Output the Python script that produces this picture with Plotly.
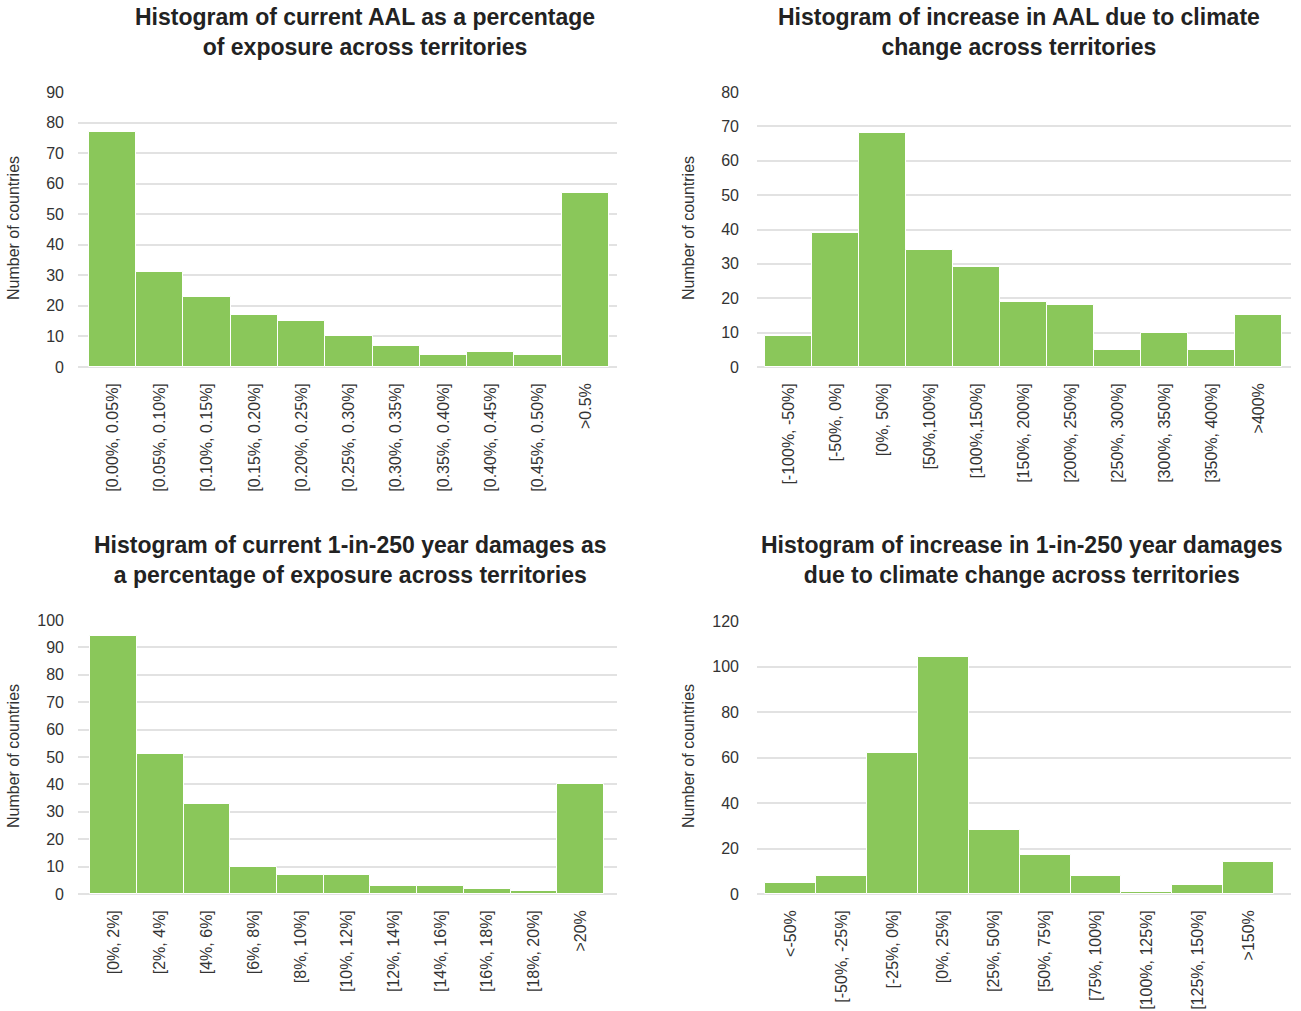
import plotly.graph_objects as go

W, H = 1301, 1011

# ---- data ----
cats_aal = ["[0.00%, 0.05%]", "[0.05%, 0.10%]", "[0.10%, 0.15%]", "[0.15%, 0.20%]",
            "[0.20%, 0.25%]", "[0.25%, 0.30%]", "[0.30%, 0.35%]", "[0.35%, 0.40%]",
            "[0.40%, 0.45%]", "[0.45%, 0.50%]", ">0.5%"]
vals_aal = [77, 31, 23, 17, 15, 10, 7, 4, 5, 4, 57]

cats_aal_inc = ["[-100%, -50%]", "[-50%, 0%]", "[0%, 50%]", "[50%,100%]", "[100%,150%]",
                "[150%, 200%]", "[200%, 250%]", "[250%, 300%]", "[300%, 350%]",
                "[350%, 400%]", ">400%"]
vals_aal_inc = [9, 39, 68, 34, 29, 19, 18, 5, 10, 5, 15]

cats_250 = ["[0%, 2%]", "[2%, 4%]", "[4%, 6%]", "[6%, 8%]", "[8%, 10%]", "[10%, 12%]",
            "[12%, 14%]", "[14%, 16%]", "[16%, 18%]", "[18%, 20%]", ">20%"]
vals_250 = [94, 51, 33, 10, 7, 7, 3, 3, 2, 1, 40]

cats_250_inc = ["<-50%", "[-50%, -25%]", "[-25%, 0%]", "[0%, 25%]", "[25%, 50%]",
                "[50%, 75%]", "[75%, 100%]", "[100%, 125%]", "[125%, 150%]", ">150%"]
vals_250_inc = [5, 8, 62, 104, 28, 17, 8, 1, 4, 14]

titles = ["Histogram of current AAL as a percentage<br>of exposure across territories",
          "Histogram of increase in AAL due to climate<br>change across territories",
          "Histogram of current 1-in-250 year damages as<br>a percentage of exposure across territories",
          "Histogram of increase in 1-in-250 year damages<br>due to climate change across territories"]
y_title = "Number of countries"

# ---- styling ----
GREEN = "#8AC75A"
GRID = "#E2E2E2"
TXT = "#333333"
FONT = "Liberation Sans, Arial, sans-serif"

def px_x(p):
    return p / W

def px_y(p):
    return 1 - p / H

panels = [
    # cats, vals, x-domain px, y-domain px (top, bottom), yrange, dtick, xrange, standoff
    (cats_aal, vals_aal, (78, 617), (92, 367), 90, 10, (-0.73, 10.67), 13),
    (cats_aal_inc, vals_aal_inc, (757, 1291), (92, 367), 80, 10, (-0.67, 10.69), 17),
    (cats_250, vals_250, (78, 617), (620, 894), 100, 10, (-0.76, 10.78), 13),
    (cats_250_inc, vals_250_inc, (757, 1291), (621, 894), 120, 20, (-0.66, 9.83), 17),
]

fig = go.Figure()
layout = dict(
    width=W, height=H, margin=dict(l=0, r=0, t=0, b=0, autoexpand=False),
    paper_bgcolor="white", plot_bgcolor="white",
    showlegend=False, bargap=0,
    font=dict(family=FONT, color=TXT),
)

for i, (cats, vals, xd, yd, ymax, dt, xr, so) in enumerate(panels, start=1):
    xa = "x" if i == 1 else f"x{i}"
    ya = "y" if i == 1 else f"y{i}"
    fig.add_trace(go.Bar(
        x=cats, y=vals, xaxis=xa, yaxis=ya,
        marker=dict(color=GREEN, line=dict(color="white", width=1)),
        hoverinfo="x+y",
    ))
    xkey = "xaxis" if i == 1 else f"xaxis{i}"
    ykey = "yaxis" if i == 1 else f"yaxis{i}"
    layout[xkey] = dict(
        domain=[px_x(xd[0]), px_x(xd[1])], anchor=ya,
        type="category", range=list(xr), automargin=False,
        tickangle=-90, tickfont=dict(size=16, color=TXT),
        showgrid=False, showline=False, zeroline=False, ticks="",
        ticklabelstandoff=12,
    )
    layout[ykey] = dict(
        domain=[px_y(yd[1]), px_y(yd[0])], anchor=xa, automargin=False,
        range=[0, ymax], dtick=dt, tick0=0,
        showgrid=True, gridcolor=GRID, gridwidth=1.5,
        zeroline=True, zerolinecolor=GRID, zerolinewidth=2,
        showline=False, ticks="", tickfont=dict(size=16, color=TXT),
        ticklabelstandoff=so,
    )

annotations = []
title_pos = [(365, 31.5), (1019, 31.5), (350, 559.5), (1022, 559.5)]
for t, (cx, cy) in zip(titles, title_pos):
    annotations.append(dict(
        text=f"<b>{t}</b>", x=px_x(cx), y=px_y(cy), xref="paper", yref="paper",
        xanchor="center", yanchor="middle", showarrow=False,
        font=dict(size=23, family=FONT, color="#222222"),
    ))
ytitle_pos = [(13, 228), (688, 228), (13, 756), (688, 756)]
for (cx, cy) in ytitle_pos:
    annotations.append(dict(
        text=y_title, x=px_x(cx), y=px_y(cy), xref="paper", yref="paper",
        xanchor="center", yanchor="middle", showarrow=False, textangle=-90,
        font=dict(size=16, family=FONT, color=TXT),
    ))
layout["annotations"] = annotations

fig.update_layout(**layout)
fig.write_html("out.html",
               config={"displayModeBar": False},
               post_script="document.body.style.margin='0';document.body.style.overflow='hidden';")
